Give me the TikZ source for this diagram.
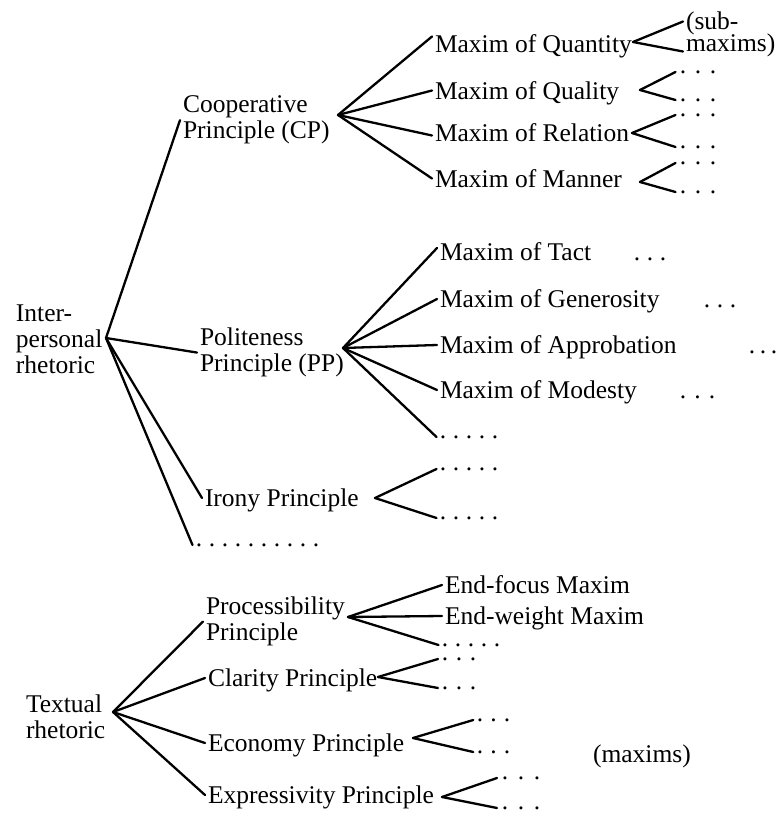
\documentclass[tikz,border=0pt]{standalone}
\usepackage{fontspec}
\setmainfont{Liberation Serif}
\newcommand\dotbox[1]{\makebox[#1]{.}}
\newcommand\dthree[1]{\dotbox{#1}\dotbox{#1}\dotbox{#1}}
\newcommand\dfive[1]{\dthree{#1}\dotbox{#1}\dotbox{#1}}
\newcommand\dten[1]{\dfive{#1}\dfive{#1}}
\tikzset{
  lbl/.style={inner sep=0pt, outer sep=1.5pt, text height=8.5pt, text depth=0pt, anchor=west},
  ml/.style={inner sep=0pt, outer sep=1.5pt, align=left, anchor=north west},
  dts/.style={inner sep=0pt, outer sep=0pt, text height=1.3pt, text depth=0pt, anchor=west},
  br/.style={line width=1.15pt, line cap=round, line join=round},
}
\begin{document}
\begin{tikzpicture}[x=0.5pt, y=-0.5pt, font=\fontsize{12.75pt}{13pt}\selectfont]
\useasboundingbox[fill=white] (0,0) rectangle (776,813);

% ---------- Interpersonal rhetoric ----------
\node[ml] (ir) at (13,302) {Inter-\\personal\\rhetoric};
\coordinate (r1) at (106,338);

\node[ml] (cp) at (180,93) {Cooperative\\Principle (CP)};
\coordinate (cpv) at (338,115);
\node[ml] (pp) at (197,325) {Politeness\\Principle (PP)};
\coordinate (ppv) at (343,348);
\node[lbl] (irony) at (202,498) {Irony Principle};
\coordinate (irv) at (375,498);
\node[dts] (ldots) at (192.5,545) {\dten{6.5pt}};

% CP maxims
\node[lbl] (quant) at (432,44.5) {Maxim of Quantity};
\node[lbl] (qual) at (432,90.5) {Maxim of Quality};
\node[lbl] (rel) at (432,132.5) {Maxim of Relation};
\node[lbl] (man) at (432,178.5) {Maxim of Manner};
\node[lbl] (sub1) at (683,21.5) {(sub-};
\node[lbl] (sub2) at (683,43.5) {maxims)};
\coordinate (quantv) at (633,42);
\coordinate (qualv) at (640,90);
\coordinate (relv) at (632,133);
\coordinate (manv) at (640,182);
\node[dts] (qualda) at (675.5,72) {\dthree{7.5pt}};
\node[dts] (qualdb) at (675.5,100) {\dthree{7.5pt}};
\node[dts] (relda) at (675.5,115) {\dthree{7.5pt}};
\node[dts] (reldb) at (675.5,147) {\dthree{7.5pt}};
\node[dts] (manda) at (675.5,163) {\dthree{7.5pt}};
\node[dts] (mandb) at (675.5,192) {\dthree{7.5pt}};

% PP maxims
\node[lbl] (tact) at (437,252) {Maxim of Tact};
\node[lbl] (gen) at (437,299) {Maxim of Generosity};
\node[lbl] (appr) at (437,345) {Maxim of Approbation};
\node[lbl] (mod) at (437,390) {Maxim of Modesty};
\node[dts] (ppd) at (436.5,437) {\dfive{6.5pt}};
\node[dts] (tactd) at (630.5,259.2) {\dthree{6.5pt}};
\node[dts] (gend) at (700.5,306.2) {\dthree{6.5pt}};
\node[dts] (apprd) at (746.5,352.2) {\dthree{5.5pt}};
\node[dts] (modd) at (675.75,397.2) {\dthree{7.25pt}};

% Irony
\node[dts] (irda) at (436.5,469) {\dfive{6.5pt}};
\node[dts] (irdb) at (436.5,518) {\dfive{6.5pt}};

\draw[br] (r1) -- (cp.west);
\draw[br] (r1) -- (pp.west);
\draw[br] (r1) -- (irony.west);
\draw[br] (r1) -- (ldots.west);

\draw[br] (cpv) -- ([yshift=4pt]quant.west);
\draw[br] (cpv) -- (qual.west);
\draw[br] (cpv) -- ([yshift=-1.5pt]rel.west);
\draw[br] (cpv) -- (man.west);

\draw[br] (quantv) -- (sub1.west);
\draw[br] (quantv) -- ([yshift=-4pt]sub2.west);
\draw[br] (qualv) -- (qualda.west);
\draw[br] (qualv) -- (qualdb.west);
\draw[br] (relv) -- (relda.west);
\draw[br] (relv) -- (reldb.west);
\draw[br] (manv) -- (manda.west);
\draw[br] (manv) -- (mandb.west);

\draw[br] (ppv) -- ([yshift=2pt]tact.west);
\draw[br] (ppv) -- (gen.west);
\draw[br] (ppv) -- (appr.west);
\draw[br] (ppv) -- (mod.west);
\draw[br] (ppv) -- (ppd.west);

\draw[br] (irv) -- (irda.west);
\draw[br] (irv) -- (irdb.west);

% ---------- Textual rhetoric ----------
\node[ml] (tr) at (23,692) {Textual\\rhetoric};
\coordinate (r2) at (113,712);

\node[ml] (proc) at (203,594) {Processibility\\Principle};
\coordinate (procv) at (348,617);
\node[lbl] (ef) at (442,585) {End-focus Maxim};
\node[lbl] (ew) at (442,616) {End-weight Maxim};
\node[dts] (procd) at (438.5,645) {\dfive{6.5pt}};

\node[lbl] (clar) at (205,678) {Clarity Principle};
\coordinate (clarv) at (378,677);
\node[dts] (clarda) at (438,659) {\dthree{7pt}};
\node[dts] (clardb) at (438,688) {\dthree{7pt}};

\node[lbl] (econ) at (205,743) {Economy Principle};
\coordinate (econv) at (413,738);
\node[dts] (econda) at (473.25,720) {\dthree{6.75pt}};
\node[dts] (econdb) at (473.25,752) {\dthree{6.75pt}};

\node[lbl] (expr) at (205,795) {Expressivity Principle};
\coordinate (exprv) at (442,797);
\node[dts] (exprda) at (497,778) {\dthree{8pt}};
\node[dts] (exprdb) at (497,808) {\dthree{8pt}};

\node[lbl] (mx) at (590,753.5) {(maxims)};

\draw[br] (r2) -- (proc.west);
\draw[br] (r2) -- (clar.west);
\draw[br] (r2) -- (econ.west);
\draw[br] (r2) -- (expr.west);

\draw[br] (procv) -- (ef.west);
\draw[br] (procv) -- (ew.west);
\draw[br] (procv) -- (procd.west);

\draw[br] (clarv) -- (clarda.west);
\draw[br] (clarv) -- (clardb.west);
\draw[br] (econv) -- (econda.west);
\draw[br] (econv) -- (econdb.west);
\draw[br] (exprv) -- (exprda.west);
\draw[br] (exprv) -- (exprdb.west);
\end{tikzpicture}
\end{document}
